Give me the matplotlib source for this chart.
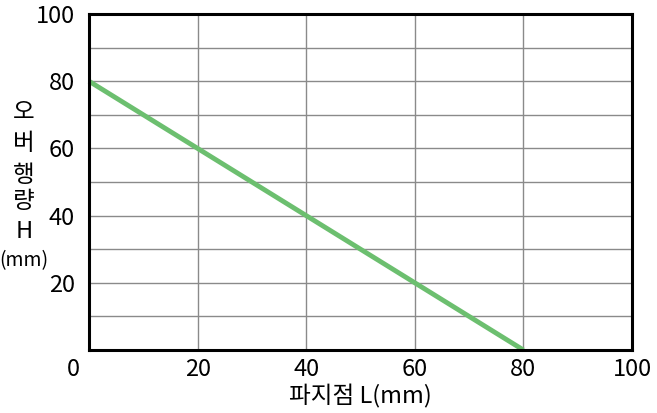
import matplotlib
matplotlib.use("Agg")
import matplotlib.pyplot as plt

plt.rcParams['font.family'] = ['Noto Sans CJK KR', 'DejaVu Sans']

line_x = [0, 80]
line_y = [80, 0]
x_ticks = [20, 40, 60, 80, 100]
y_ticks = [20, 40, 60, 80, 100]
x_grid = [20, 40, 60, 80]
y_grid = [10, 20, 30, 40, 50, 60, 70, 80, 90]
xlabel = "파지점 L(mm)"
ylabel_lines = ["오", "버", "행", "량", "H", "(mm)"]

fs = 17
fig = plt.figure(figsize=(6.57, 4.13), dpi=100)
ax = fig.add_axes([89/657, 1-350/413, (632-89)/657, (350-14)/413])
ax.set_xlim(0, 100)
ax.set_ylim(0, 100)
for gx in x_grid:
    ax.axvline(gx, color='#8a8a8a', lw=1.0, zorder=1)
for gy in y_grid:
    ax.axhline(gy, color='#8a8a8a', lw=1.0, zorder=1)
ax.plot(line_x, line_y, color='#6cbf6f', lw=3.5, solid_capstyle='butt', zorder=3, clip_on=False)
for s in ax.spines.values():
    s.set_linewidth(2.2)
    s.set_color('black')
    s.set_zorder(4)
ax.set_xticks(x_ticks)
ax.set_yticks(y_ticks)
ax.tick_params(length=0, labelsize=fs)
ax.tick_params(axis='x', pad=6)
ax.tick_params(axis='y', pad=10)
ax.set_xticklabels([str(v) for v in x_ticks])
ax.set_yticklabels([str(v) for v in y_ticks])
fig.text(73/657, 1-370/413, "0", fontsize=fs, ha='center', va='center')
fig.text((89+632)/2/657, 1-396/413, xlabel, fontsize=fs, ha='center', va='center')

ylabel_centers = [113, 143, 175, 201, 232, 261]
ylabel_sizes = [17, 17, 17, 17, 17, 14]
for txt, yc, sz in zip(ylabel_lines, ylabel_centers, ylabel_sizes):
    fig.text(24/657, 1-yc/413, txt, fontsize=sz, ha='center', va='center')
fig.savefig("out.png", dpi=100)
